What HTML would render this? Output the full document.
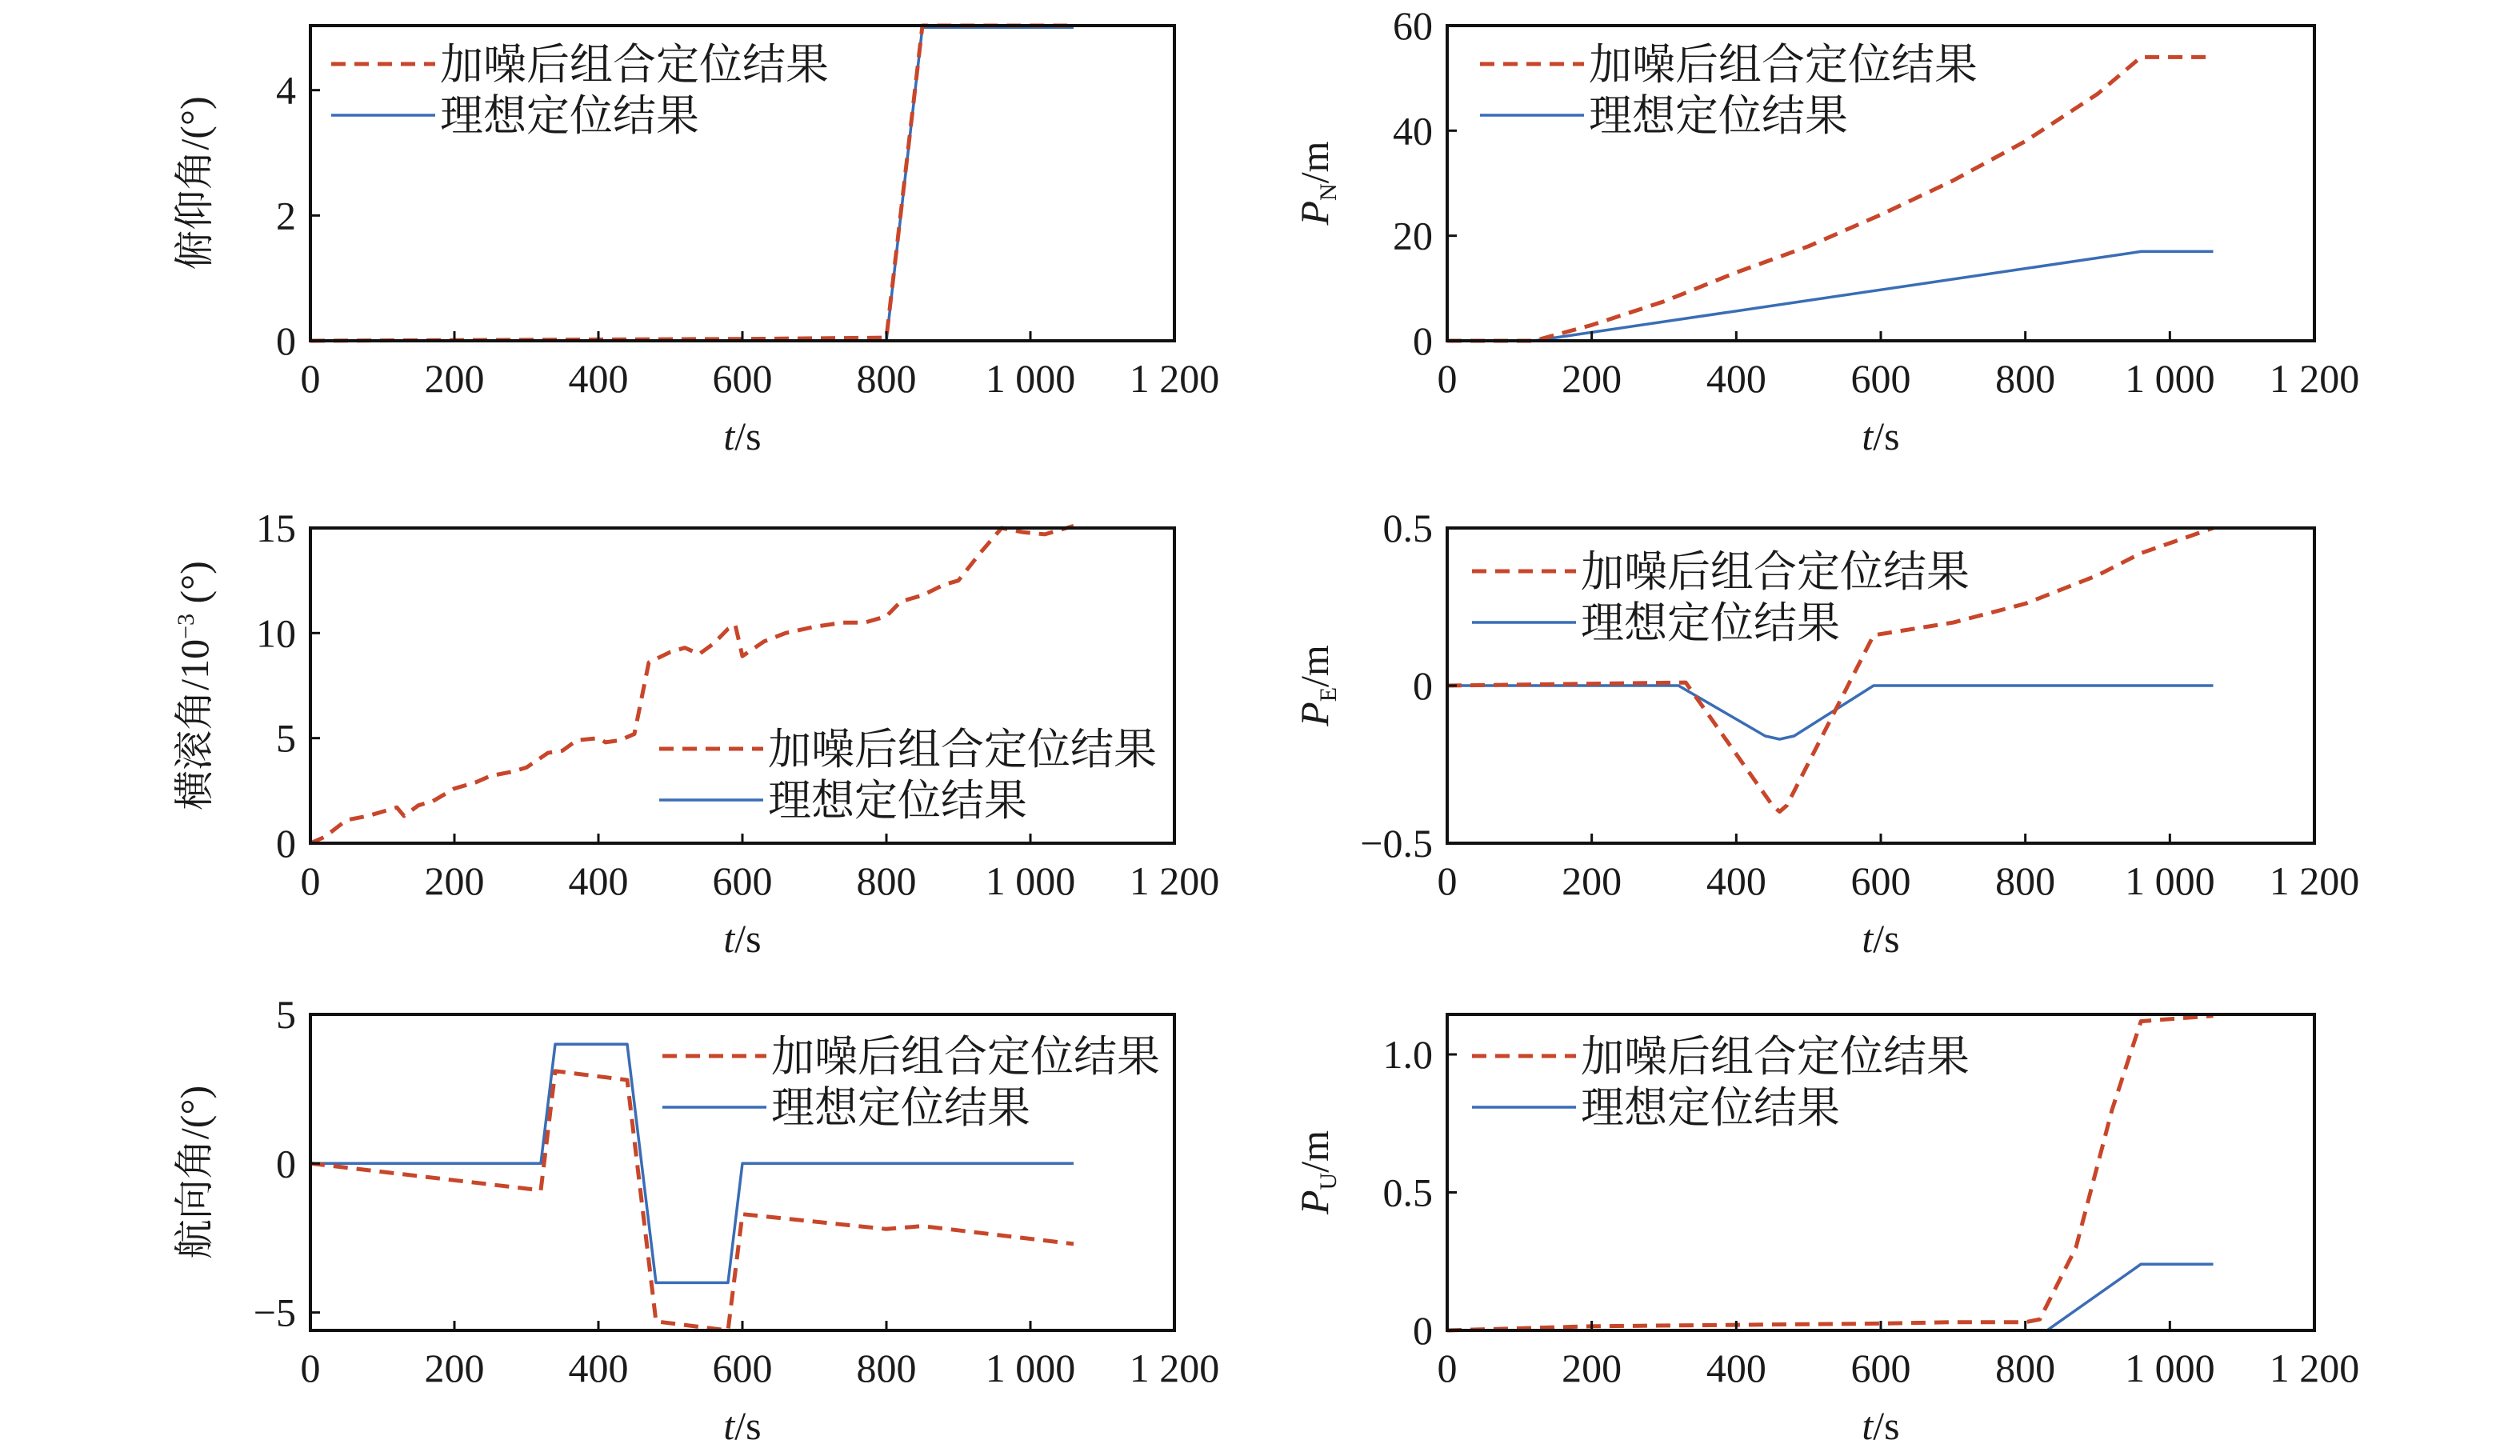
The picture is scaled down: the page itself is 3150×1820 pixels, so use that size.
<!DOCTYPE html>
<html><head><meta charset="utf-8"><style>
html,body{margin:0;padding:0;background:#fff}
svg{display:block}
text{font-family:"Liberation Serif","Noto Serif CJK SC",serif;fill:#1a1a1a}
</style></head><body>
<svg id="chart" width="3150" height="1820" viewBox="0 0 3150 1820" xmlns="http://www.w3.org/2000/svg"></svg>
<script>
// ---- data ----
const xTicks = [0,200,400,600,800,1000,1200];
const xTickLabels = ["0","200","400","600","800","1 000","1 200"];

const pitchT = [0,800,850,1060];
const pitchIdeal = [0,0,5,5];
const pitchNoisyT = [0,200,400,600,800,850,1060];
const pitchNoisy = [0,0.01,0.02,0.03,0.05,5.03,5.03];

const pnT = [0,120,960,1060];
const pnIdeal = [0,0,17,17];
const pnNoisyT = [0,120,200,300,400,500,600,700,800,900,960,1060];
const pnNoisy = [0,0,3,7.5,13,18,24,30.5,38,47,54,54];

const rollT = [0,20,50,80,100,120,130,150,170,200,230,250,280,300,330,350,370,400,410,430,450,470,500,520,540,560,580,590,600,630,660,700,740,770,800,820,850,880,900,930,960,990,1020,1060];
const rollNoisy = [0,0.3,1.1,1.3,1.5,1.7,1.3,1.8,2.0,2.6,2.9,3.2,3.4,3.6,4.3,4.4,4.9,5.0,4.8,4.9,5.2,8.6,9.1,9.3,9.0,9.5,10.2,10.4,8.9,9.6,10.0,10.3,10.5,10.5,10.8,11.5,11.8,12.3,12.5,13.8,15.0,14.8,14.7,15.1];
const rollIdealT = [0,1060];
const rollIdeal = [0,0];

const peT = [0,320,440,460,480,590,1060];
const peIdeal = [0,0,-0.16,-0.17,-0.16,0,0];
const peNoisyT = [0,330,450,460,470,590,700,800,900,960,1060];
const peNoisy = [0,0.01,-0.38,-0.40,-0.38,0.16,0.2,0.26,0.35,0.42,0.5];

const hdT = [0,320,340,440,480,580,600,1060];
const hdIdeal = [0,0,4,4,-4,-4,0,0];
const hdNoisyT = [0,320,340,440,480,580,600,800,850,1060];
const hdNoisy = [0,-0.9,3.1,2.8,-5.3,-5.6,-1.7,-2.2,-2.1,-2.7];

const puT = [0,830,960,1060];
const puIdeal = [0,0,0.24,0.24];
const puNoisyT = [0,200,400,600,700,800,820,870,920,960,1060];
const puNoisy = [0,0.015,0.02,0.025,0.03,0.03,0.04,0.3,0.8,1.12,1.14];

const NS = "http://www.w3.org/2000/svg";
const svg = document.getElementById('chart');
function mk(tag, attrs, parent){const e=document.createElementNS(NS,tag);for(const k in attrs)e.setAttribute(k,attrs[k]);(parent||svg).appendChild(e);return e;}

const L = {x0:388,x1:1468}, R = {x0:1809,x1:2893};
const rows = [{y0:32,y1:426},{y0:660,y1:1054},{y0:1268,y1:1663}];

function panel(opt){
  const g = mk('g',{});
  
  
  const {x0,x1}=opt.col,{y0,y1}=opt.row;
  const sx = v => x0 + (v-0)/(1200)*(x1-x0);
  const sy = v => y1 - (v-opt.ymin)/(opt.ymax-opt.ymin)*(y1-y0);
  function line(ts, vs, color, dash, w, nm){
    const d = ts.map((t,i)=>(i?'L':'M')+sx(t).toFixed(1)+','+sy(vs[i]).toFixed(1)).join(' ');
    const p = mk('path',{d:d,fill:'none',stroke:color,'stroke-width':w,'stroke-linejoin':'round'},g);
    if(dash) p.setAttribute('stroke-dasharray',dash);
    
    
  }
  line(opt.iT,opt.iV,'#3a6db5',null,3.5,'ideal-line');
  line(opt.nT,opt.nV,'#c8462a','18 11',5,'noisy-line');
  const fr = mk('rect',{x:x0,y:y0,width:x1-x0,height:y1-y0,fill:'none',stroke:'#111','stroke-width':4},g);
  
  
  xTicks.forEach((t,i)=>{
    mk('line',{x1:sx(t),x2:sx(t),y1:y1,y2:y1-12,stroke:'#111','stroke-width':3},g);
    const tx = mk('text',{x:sx(t),y:opt.row.y1+64,'text-anchor':'middle','font-size':50},g);
    tx.textContent = xTickLabels[i];
    
    
  });
  opt.yTicks.forEach((v,i)=>{
    mk('line',{x1:x0,x2:x0+12,y1:sy(v),y2:sy(v),stroke:'#111','stroke-width':3},g);
    const tx = mk('text',{x:x0-18,y:sy(v)+17,'text-anchor':'end','font-size':50},g);
    tx.textContent = opt.yLabels[i];
    
    
  });
  const xt = mk('text',{x:(x0+x1)/2,y:y1+136,'text-anchor':'middle','font-size':50},g);
  xt.innerHTML = '<tspan font-style="italic">t</tspan>/s';
  
  
  const cy=(y0+y1)/2, cx=opt.yTitleX;
  const yt = mk('text',{x:cx,y:cy,'text-anchor':'middle','font-size':50,transform:`rotate(-90 ${cx} ${cy})`},g);
  yt.innerHTML = opt.yTitle;
  
  
  const lg = mk('g',{},g);
  
  
  const [lx,ly]=opt.leg;
  mk('line',{x1:lx,x2:lx+130,y1:ly,y2:ly,stroke:'#c8462a','stroke-width':5,'stroke-dasharray':'18 11'},lg);
  const t1=mk('text',{x:lx+136,y:ly+19,'font-size':54},lg); t1.textContent='加噪后组合定位结果';
  
  
  mk('line',{x1:lx,x2:lx+130,y1:ly+64,y2:ly+64,stroke:'#3a6db5','stroke-width':3.5},lg);
  const t2=mk('text',{x:lx+136,y:ly+83,'font-size':54},lg); t2.textContent='理想定位结果';
  
  
}

panel({name:'pitch-panel',col:L,row:rows[0],ymin:0,ymax:5.03,yTicks:[0,2,4],yLabels:['0','2','4'],
  iT:pitchT,iV:pitchIdeal,nT:pitchNoisyT,nV:pitchNoisy,yTitleX:260,yTitle:'俯仰角/(°)',leg:[414,80]});
panel({name:'pn-panel',col:R,row:rows[0],ymin:0,ymax:60,yTicks:[0,20,40,60],yLabels:['0','20','40','60'],
  iT:pnT,iV:pnIdeal,nT:pnNoisyT,nV:pnNoisy,yTitleX:1660,yTitle:'<tspan font-style="italic">P</tspan><tspan font-size="30" dy="10">N</tspan><tspan dy="-10">/m</tspan>',leg:[1850,80]});
panel({name:'roll-panel',col:L,row:rows[1],ymin:0,ymax:15,yTicks:[0,5,10,15],yLabels:['0','5','10','15'],
  iT:rollIdealT,iV:rollIdeal,nT:rollT,nV:rollNoisy,yTitleX:260,yTitle:'横滚角/10<tspan font-size="30" dy="-18">−3</tspan><tspan dy="18"> (°)</tspan>',leg:[824,936]});
panel({name:'pe-panel',col:R,row:rows[1],ymin:-0.5,ymax:0.5,yTicks:[-0.5,0,0.5],yLabels:['−0.5','0','0.5'],
  iT:peT,iV:peIdeal,nT:peNoisyT,nV:peNoisy,yTitleX:1660,yTitle:'<tspan font-style="italic">P</tspan><tspan font-size="30" dy="10">E</tspan><tspan dy="-10">/m</tspan>',leg:[1840,714]});
panel({name:'heading-panel',col:L,row:rows[2],ymin:-5.6,ymax:5,yTicks:[-5,0,5],yLabels:['−5','0','5'],
  iT:hdT,iV:hdIdeal,nT:hdNoisyT,nV:hdNoisy,yTitleX:260,yTitle:'航向角/(°)',leg:[828,1320]});
panel({name:'pu-panel',col:R,row:rows[2],ymin:0,ymax:1.145,yTicks:[0,0.5,1.0],yLabels:['0','0.5','1.0'],
  iT:puT,iV:puIdeal,nT:puNoisyT,nV:puNoisy,yTitleX:1660,yTitle:'<tspan font-style="italic">P</tspan><tspan font-size="30" dy="10">U</tspan><tspan dy="-10">/m</tspan>',leg:[1840,1320]});
</script>
</body></html>
